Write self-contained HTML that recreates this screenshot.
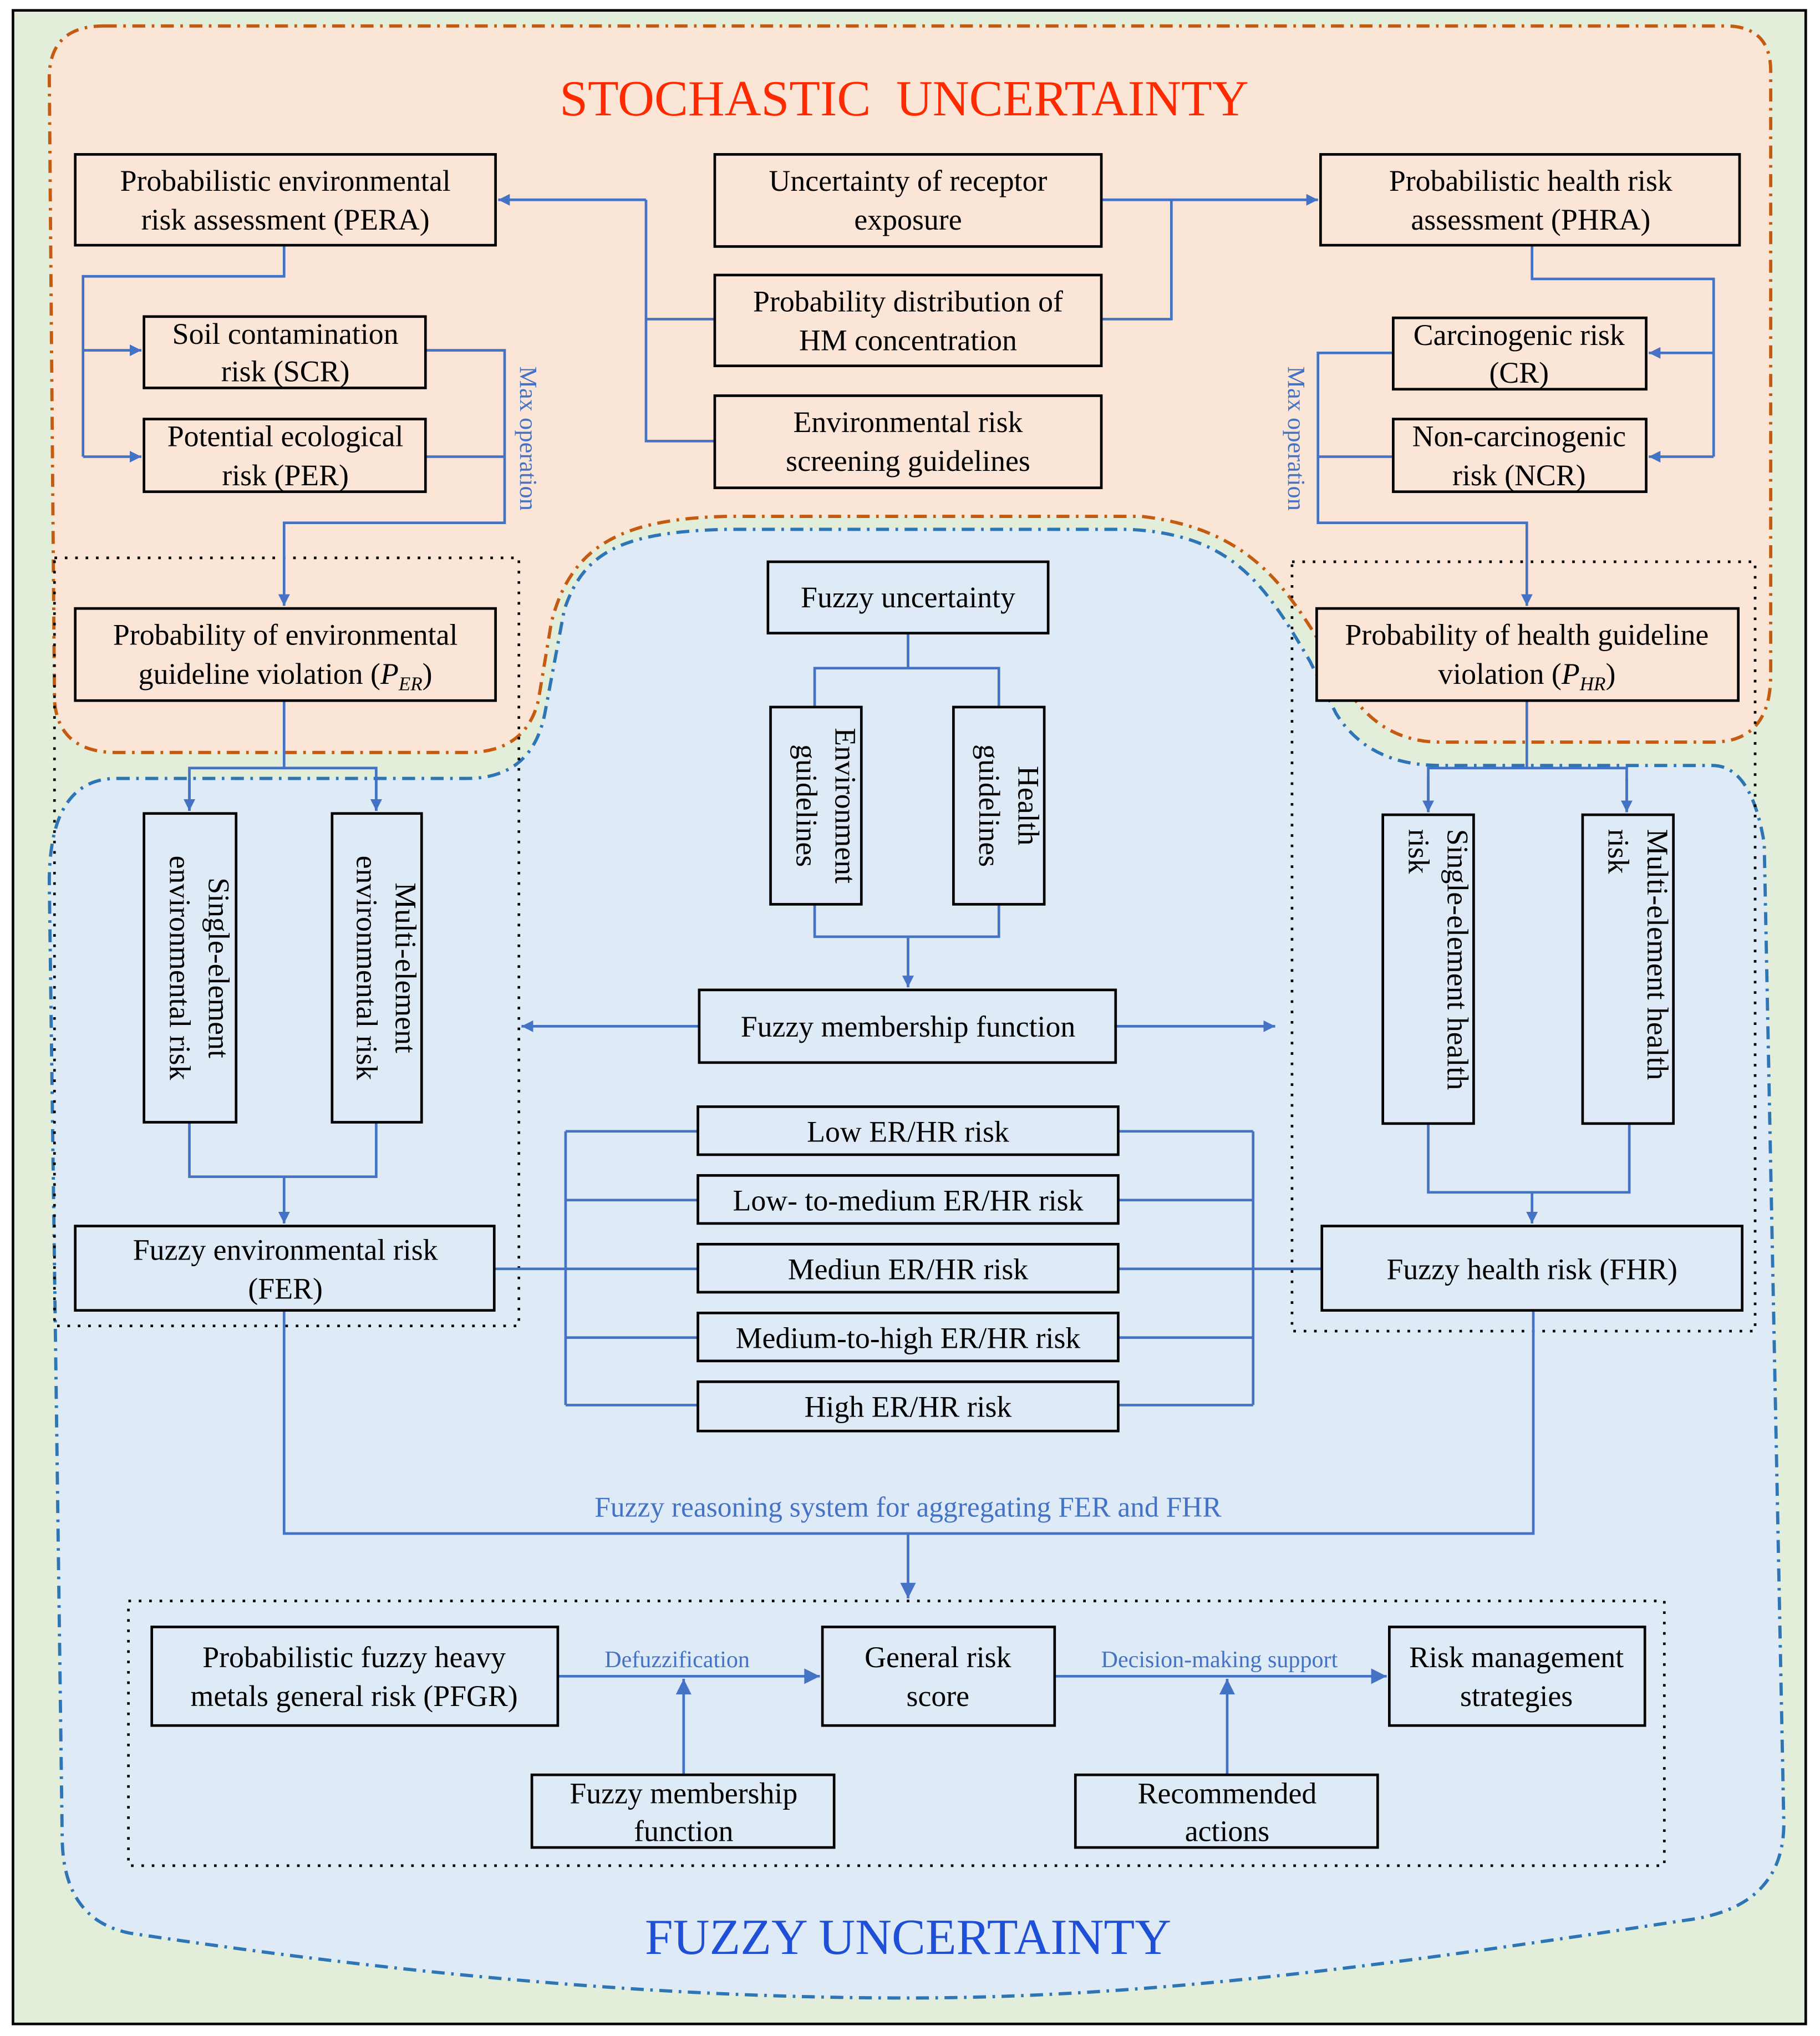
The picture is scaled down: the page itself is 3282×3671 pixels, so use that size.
<!DOCTYPE html>
<html><head><meta charset="utf-8"><style>
html,body{margin:0;padding:0;background:#fff}
svg{display:block}
svg text{font-family:"Liberation Serif","Times New Roman",serif}
</style></head><body>
<svg width="3282" height="3671" viewBox="0 0 1403 1569.3" preserveAspectRatio="none" xmlns="http://www.w3.org/2000/svg" font-family="Liberation Serif, serif">
<defs>
<marker id="a" viewBox="0 0 10 10" refX="10" refY="5" markerWidth="9" markerHeight="9" markerUnits="userSpaceOnUse" orient="auto"><path d="M0,0 L10,5 L0,10 z" fill="#4472c4"/></marker>
<marker id="b" viewBox="0 0 10 10" refX="10" refY="5" markerWidth="16" markerHeight="12" markerUnits="userSpaceOnUse" orient="auto"><path d="M0,0 L10,5 L0,10 z" fill="#4472c4"/></marker>
</defs>
<rect x="10" y="8" width="1382" height="1552" fill="#e2eed9" stroke="#000" stroke-width="2"/>
<path d="M80,20 H1330 Q1365,20 1365,55 V520 Q1365,572 1320,572 H1110 Q1070,572 1045,540 C1000,470 980,410 880,398 H560 C480,400 440,420 425,480 L415,540 Q405,580 360,580 H90 Q45,580 42,540 L38,60 Q38,20 80,20 Z" fill="#fbe5d6" stroke="#c55a11" stroke-width="2.5" stroke-dasharray="10,5,2,5"/>
<path d="M90,600 H360 Q410,600 420,550 L435,470 C450,425 480,410 560,408 H870 C950,412 975,450 1010,510 L1030,550 Q1055,590 1110,590 H1320 Q1350,590 1360,650 L1375,1400 Q1378,1470 1300,1480 C1100,1510 900,1540 700,1540 C500,1540 300,1520 100,1490 Q50,1480 48,1420 L38,680 Q38,600 90,600 Z" fill="#deebf7" stroke="#2e75b6" stroke-width="2.5" stroke-dasharray="10,5,2,5"/>
<g fill="none" stroke="#000" stroke-width="2" stroke-dasharray="2,6">
<rect x="42" y="430" width="358" height="592"/>
<rect x="996" y="433" width="357" height="593"/>
<rect x="99" y="1234" width="1184" height="204"/>
</g>
<text x="697" y="89" font-family="Liberation Serif, serif" font-size="39" fill="#ff2a00" text-anchor="middle" xml:space="preserve">STOCHASTIC  UNCERTAINTY</text>
<text x="700" y="1506" font-family="Liberation Serif, serif" font-size="39" fill="#1f4fd6" text-anchor="middle">FUZZY UNCERTAINTY</text>
<g fill="none" stroke="#4472c4" stroke-width="2">
<path d="M849,154 H1016" marker-end="url(#a)"/>
<path d="M903,154 V246 H849"/>
<path d="M498,154 H384" marker-end="url(#a)"/>
<path d="M498,154 V340 H551 M498,246 H551"/>
<path d="M219,189 V213 H64 V352"/>
<path d="M64,270 H109" marker-end="url(#a)"/>
<path d="M64,352 H109" marker-end="url(#a)"/>
<path d="M328,270 H389 V403 H219 V467" marker-end="url(#a)"/>
<path d="M328,352 H389"/>
<path d="M1181,189 V215 H1321 V352"/>
<path d="M1321,272 H1271" marker-end="url(#a)"/>
<path d="M1321,352 H1271" marker-end="url(#a)"/>
<path d="M1074,272 H1016 V403 H1177 V467" marker-end="url(#a)"/>
<path d="M1074,352 H1016"/>
<path d="M219,540 V592 M146,625 V592 H290 V625"/>
<path d="M146,600 V625" marker-end="url(#a)"/>
<path d="M290,600 V625" marker-end="url(#a)"/>
<path d="M1177,540 V592 M1101,626 V592 H1254 V626"/>
<path d="M1101,600 V626" marker-end="url(#a)"/>
<path d="M1254,600 V626" marker-end="url(#a)"/>
<path d="M700,488 V515 H628 V545 M700,515 H770 V545"/>
<path d="M628,697 V722 H770 V697"/>
<path d="M700,722 V761" marker-end="url(#a)"/>
<path d="M539,791 H402" marker-end="url(#a)"/>
<path d="M860,791 H983" marker-end="url(#a)"/>
<path d="M146,865 V907 H290 V865"/>
<path d="M219,907 V943" marker-end="url(#a)"/>
<path d="M1101,866 V919 H1256 V866"/>
<path d="M1181,919 V943" marker-end="url(#a)"/>
<path d="M436,872 V1083 M436,872 H538 M436,925 H538 M381,978 H538 M436,1031 H538 M436,1083 H538"/>
<path d="M966,872 V1083 M862,872 H966 M862,925 H966 M862,978 H1019 M862,1031 H966 M862,1083 H966"/>
<path d="M219,1010 V1182 H1182 V1010"/>
<path d="M700,1182 V1232" marker-end="url(#b)"/>
<path d="M430,1292 H632" marker-end="url(#b)"/>
<path d="M527,1368 V1294" marker-end="url(#b)"/>
<path d="M813,1292 H1069" marker-end="url(#b)"/>
<path d="M946,1368 V1294" marker-end="url(#b)"/>
</g>
<g fill="#4472c4" font-family="Liberation Serif, serif">
<text x="700" y="1169" font-size="22" text-anchor="middle">Fuzzy reasoning system for aggregating FER and FHR</text>
<text x="522" y="1285" font-size="18" text-anchor="middle">Defuzzification</text>
<text x="940" y="1285" font-size="18" text-anchor="middle">Decision-making support</text>
<text transform="translate(401,338) rotate(90)" font-size="19" text-anchor="middle">Max operation</text>
<text transform="translate(993,338) rotate(90)" font-size="19" text-anchor="middle">Max operation</text>
</g>
<g stroke="#000" stroke-width="2">
<rect x="58" y="119" width="324" height="70" fill="#fbe5d6"/>
<rect x="551" y="119" width="298" height="71" fill="#fbe5d6"/>
<rect x="1018" y="119" width="323" height="70" fill="#fbe5d6"/>
<rect x="551" y="212" width="298" height="70" fill="#fbe5d6"/>
<rect x="551" y="305" width="298" height="71" fill="#fbe5d6"/>
<rect x="111" y="244" width="217" height="55" fill="#fbe5d6"/>
<rect x="111" y="323" width="217" height="56" fill="#fbe5d6"/>
<rect x="1074" y="245" width="195" height="55" fill="#fbe5d6"/>
<rect x="1074" y="323" width="195" height="56" fill="#fbe5d6"/>
<rect x="58" y="469" width="324" height="71" fill="#fbe5d6"/>
<rect x="1015" y="469" width="325" height="71" fill="#fbe5d6"/>
<rect x="592" y="433" width="216" height="55" fill="#deebf7"/>
<rect x="594" y="545" width="70" height="152" fill="#deebf7"/>
<rect x="735" y="545" width="70" height="152" fill="#deebf7"/>
<rect x="111" y="627" width="71" height="238" fill="#deebf7"/>
<rect x="256" y="627" width="69" height="238" fill="#deebf7"/>
<rect x="1066" y="628" width="70" height="238" fill="#deebf7"/>
<rect x="1220" y="628" width="70" height="238" fill="#deebf7"/>
<rect x="539" y="763" width="321" height="56" fill="#deebf7"/>
<rect x="538" y="853" width="324" height="37" fill="#deebf7"/>
<rect x="538" y="906" width="324" height="37" fill="#deebf7"/>
<rect x="538" y="959" width="324" height="37" fill="#deebf7"/>
<rect x="538" y="1012" width="324" height="37" fill="#deebf7"/>
<rect x="538" y="1065" width="324" height="38" fill="#deebf7"/>
<rect x="58" y="945" width="323" height="65" fill="#deebf7"/>
<rect x="1019" y="945" width="324" height="65" fill="#deebf7"/>
<rect x="117" y="1254" width="313" height="76" fill="#deebf7"/>
<rect x="634" y="1254" width="179" height="76" fill="#deebf7"/>
<rect x="1071" y="1254" width="197" height="76" fill="#deebf7"/>
<rect x="410" y="1368" width="233" height="56" fill="#deebf7"/>
<rect x="829" y="1368" width="233" height="56" fill="#deebf7"/>
</g>
<g font-size="23" text-anchor="middle" fill="#000" font-family="Liberation Serif, serif">
<text x="220" y="147">Probabilistic environmental</text><text x="220" y="177">risk assessment (PERA)</text>
<text x="700" y="147">Uncertainty of receptor</text><text x="700" y="177">exposure</text>
<text x="1180" y="147">Probabilistic health risk</text><text x="1180" y="177">assessment (PHRA)</text>
<text x="700" y="240">Probability distribution of</text><text x="700" y="270">HM concentration</text>
<text x="700" y="333">Environmental risk</text><text x="700" y="363">screening guidelines</text>
<text x="220" y="265">Soil contamination</text><text x="220" y="294">risk (SCR)</text>
<text x="220" y="344">Potential ecological</text><text x="220" y="374">risk (PER)</text>
<text x="1171" y="266">Carcinogenic risk</text><text x="1171" y="295">(CR)</text>
<text x="1171" y="344">Non-carcinogenic</text><text x="1171" y="374">risk (NCR)</text>
<text x="220" y="497">Probability of environmental</text><text x="220" y="527">guideline violation (<tspan font-style="italic">P</tspan><tspan font-style="italic" font-size="15" dy="5">ER</tspan><tspan dy="-5">)</tspan></text>
<text x="1177" y="497">Probability of health guideline</text><text x="1177" y="527">violation (<tspan font-style="italic">P</tspan><tspan font-style="italic" font-size="15" dy="5">HR</tspan><tspan dy="-5">)</tspan></text>
<text x="700" y="468">Fuzzy uncertainty</text>
<text transform="translate(629,621) rotate(90)"><tspan x="0" y="-15">Environment</tspan><tspan x="0" y="15">guidelines</tspan></text>
<text transform="translate(770,621) rotate(90)"><tspan x="0" y="-15">Health</tspan><tspan x="0" y="15">guidelines</tspan></text>
<text transform="translate(146,746) rotate(90)"><tspan x="0" y="-15">Single-element</tspan><tspan x="0" y="15">environmental risk</tspan></text>
<text transform="translate(290,746) rotate(90)"><tspan x="0" y="-15">Multi-element</tspan><tspan x="0" y="15">environmental risk</tspan></text>
<text transform="translate(1101,747) rotate(90)" text-anchor="start"><tspan x="-108" y="-15">Single-element health</tspan><tspan x="-108" y="15">risk</tspan></text>
<text transform="translate(1255,747) rotate(90)" text-anchor="start"><tspan x="-108" y="-15">Multi-element health</tspan><tspan x="-108" y="15">risk</tspan></text>
<text x="700" y="799">Fuzzy membership function</text>
<text x="700" y="880">Low ER/HR risk</text>
<text x="700" y="933">Low- to-medium ER/HR risk</text>
<text x="700" y="986">Mediun ER/HR risk</text>
<text x="700" y="1039">Medium-to-high ER/HR risk</text>
<text x="700" y="1092">High ER/HR risk</text>
<text x="220" y="971">Fuzzy environmental risk</text><text x="220" y="1001">(FER)</text>
<text x="1181" y="986">Fuzzy health risk (FHR)</text>
<text x="273" y="1285">Probabilistic fuzzy heavy</text><text x="273" y="1315">metals general risk (PFGR)</text>
<text x="723" y="1285">General risk</text><text x="723" y="1315">score</text>
<text x="1169" y="1285">Risk management</text><text x="1169" y="1315">strategies</text>
<text x="527" y="1390">Fuzzy membership</text><text x="527" y="1419">function</text>
<text x="946" y="1390">Recommended</text><text x="946" y="1419">actions</text>
</g>
</svg>
</body></html>
